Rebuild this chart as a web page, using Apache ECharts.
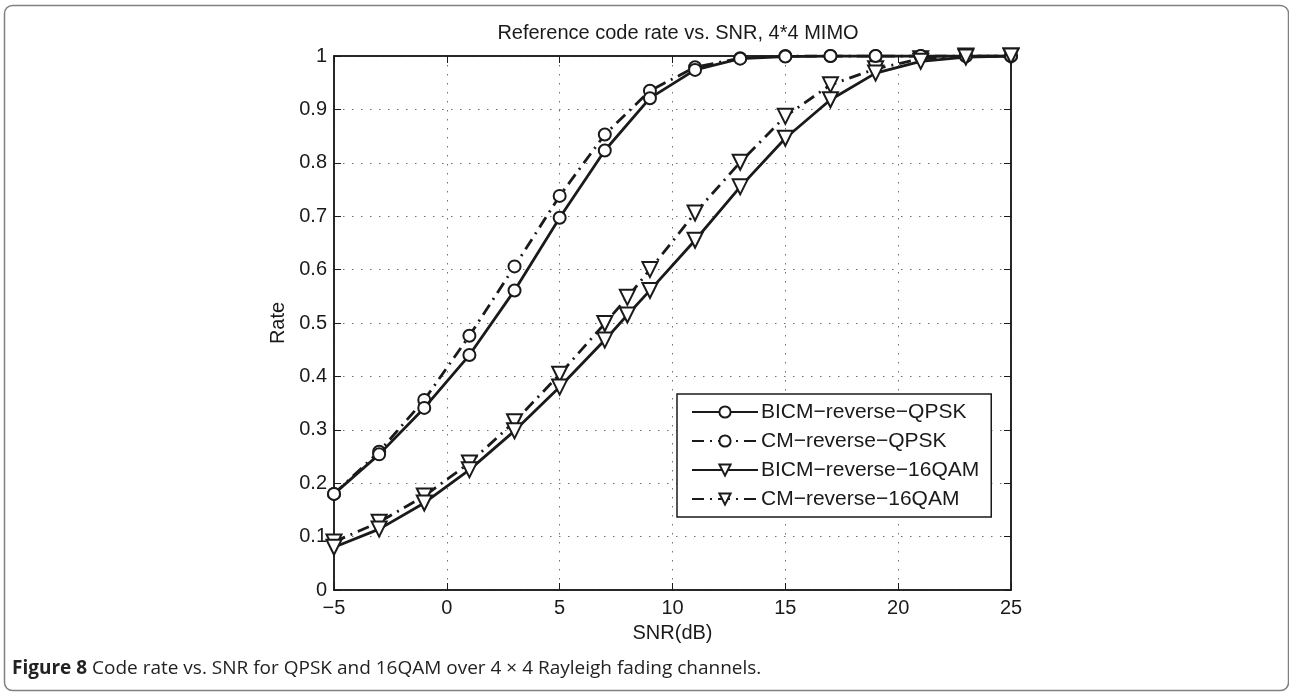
<!DOCTYPE html>
<html>
<head>
<meta charset="utf-8">
<script src="https://cdn.jsdelivr.net/npm/echarts@6/dist/echarts.min.js"></script>
<style>
html,body{margin:0;padding:0;background:#fff;}
#chart{width:1289px;height:692px;}
</style>
</head>
<body>
<div id="chart"></div>
<script>
// ---- data ----
const titleText = 'Reference code rate vs. SNR, 4*4 MIMO';
const xName = 'SNR(dB)';
const yName = 'Rate';
const seriesNames = ['BICM\u2212reverse\u2212QPSK', 'CM\u2212reverse\u2212QPSK', 'BICM\u2212reverse\u221216QAM', 'CM\u2212reverse\u221216QAM'];

const snrQPSK = [-5, -3, -1, 1, 3, 5, 7, 9, 11, 13, 15, 17, 19, 21, 23, 25];
const bicmQPSK = [0.18, 0.254, 0.341, 0.44, 0.561, 0.697, 0.823, 0.921, 0.974, 0.995, 0.999, 1.0, 1.0, 1.0, 1.0, 1.0];
const cmQPSK   = [0.18, 0.259, 0.356, 0.476, 0.606, 0.738, 0.853, 0.935, 0.979, 0.996, 1.0, 1.0, 1.0, 1.0, 1.0, 1.0];

const snr16QAM = [-5, -3, -1, 1, 3, 5, 7, 8, 9, 11, 13, 15, 17, 19, 21, 23, 25];
const bicm16QAM = [0.08, 0.114, 0.163, 0.225, 0.298, 0.38, 0.468, 0.515, 0.561, 0.655, 0.755, 0.846, 0.918, 0.968, 0.99, 0.998, 1.0];
const cm16QAM   = [0.09, 0.127, 0.176, 0.238, 0.315, 0.404, 0.499, 0.548, 0.6, 0.706, 0.801, 0.887, 0.946, 0.976, 0.995, 1.0, 1.0];

const captionBold = 'Figure 8';
const captionText = ' Code rate vs. SNR for QPSK and 16QAM over 4 \u00d7 4 Rayleigh fading channels.';

// ---- chart ----
const pair = (xs, ys) => xs.map((x, i) => [x, ys[i]]);
const FONT = '"Liberation Sans", Arial, sans-serif';
const INK = '#1a1a1a';
const dashDot = [12, 6, 2, 6];

const chart = echarts.init(document.getElementById('chart'), null, {renderer: 'canvas'});

function mkSeries(name, data, symbol, dashed, size) {
  return {
    name: name,
    type: 'line',
    data: data,
    xAxisIndex: 0, yAxisIndex: 0,
    symbol: symbol,
    symbolSize: size,
    symbolRotate: symbol === 'emptyTriangle' ? 180 : 0,
    showAllSymbol: true,
    smooth: false,
    animation: false,
    lineStyle: {color: INK, width: 2.8, type: dashed ? dashDot : 'solid'},
    itemStyle: {color: INK, borderColor: INK, borderWidth: 2.8},
    emphasis: {disabled: true},
    z: dashed ? 3 : 4
  };
}

const gridLine = {show: true, lineStyle: {color: '#707070', width: 1, type: [1.5, 7.5]}};
const tick = {show: true, inside: true, length: 7, lineStyle: {color: INK, width: 1}};
const line = {show: true, onZero: false, lineStyle: {color: INK, width: 1.5}};

const option = {
  animation: false,
  backgroundColor: '#fff',
  title: {
    text: titleText,
    left: 673, top: 18, textAlign: 'center',
    textStyle: {fontFamily: FONT, fontSize: 20, fontWeight: 'normal', color: INK}
  },
  grid: {left: 334, right: 278, top: 56, bottom: 102, show: true, borderColor: INK, borderWidth: 1.5, backgroundColor: 'transparent'},
  legend: {
    orient: 'vertical',
    left: 677, top: 394,
    padding: [7.5, 12, 7.5, 14],
    itemWidth: 66, itemHeight: 14, itemGap: 8,
    backgroundColor: '#fff',
    borderColor: INK, borderWidth: 1.5, borderRadius: 0,
    textStyle: {fontFamily: FONT, fontSize: 21, color: INK, padding: [0, 0, 0, -2]},
    data: seriesNames
  },
  xAxis: [{
    type: 'value', min: -5, max: 25, interval: 5,
    name: xName, nameLocation: 'middle', nameGap: 33,
    nameTextStyle: {fontFamily: FONT, fontSize: 20, color: INK},
    axisLine: line,
    axisTick: tick,
    axisLabel: {fontFamily: FONT, fontSize: 20, color: INK, margin: 8,
      formatter: v => v < 0 ? '\u2212' + Math.abs(v) : String(v)},
    splitLine: gridLine
  }, {
    type: 'value', min: -5, max: 25, interval: 5, position: 'top',
    axisLine: line, axisTick: tick,
    axisLabel: {show: false}, splitLine: {show: false}
  }],
  yAxis: [{
    type: 'value', min: 0, max: 1, interval: 0.1,
    name: yName, nameLocation: 'middle', nameGap: 40, nameRotate: 90,
    nameTextStyle: {fontFamily: FONT, fontSize: 20, color: INK},
    axisLine: line,
    axisTick: tick,
    axisLabel: {fontFamily: FONT, fontSize: 20, color: INK, margin: 7,
      formatter: v => String(Math.round(v * 10) / 10)},
    splitLine: gridLine
  }, {
    type: 'value', min: 0, max: 1, interval: 0.1, position: 'right',
    axisLine: line, axisTick: tick,
    axisLabel: {show: false}, splitLine: {show: false}
  }],
  series: [
    mkSeries(seriesNames[0], pair(snrQPSK, bicmQPSK), 'emptyCircle', false, 12),
    mkSeries(seriesNames[1], pair(snrQPSK, cmQPSK), 'emptyCircle', true, 12),
    mkSeries(seriesNames[2], pair(snr16QAM, bicm16QAM), 'emptyTriangle', false, 15),
    mkSeries(seriesNames[3], pair(snr16QAM, cm16QAM), 'emptyTriangle', true, 15)
  ],
  graphic: [
    {type: 'rect', left: 2, top: 3, shape: {width: 1284, height: 685, r: 8},
      style: {fill: 'none', stroke: '#808080', lineWidth: 1.5}, silent: true, z: 0},
    {type: 'text', left: 12, top: 659,
      style: {
        text: '{b|' + captionBold + '}{n|' + captionText + '}',
        rich: {
          b: {fontFamily: '"Open Sans", "Noto Sans", sans-serif', fontWeight: 'bold', fontSize: 19, fill: '#222'},
          n: {fontFamily: '"Open Sans", "Noto Sans", sans-serif', fontSize: 19, fill: '#222'}
        }
      }, z: 10}
  ]
};
chart.setOption(option);
</script>
</body>
</html>
